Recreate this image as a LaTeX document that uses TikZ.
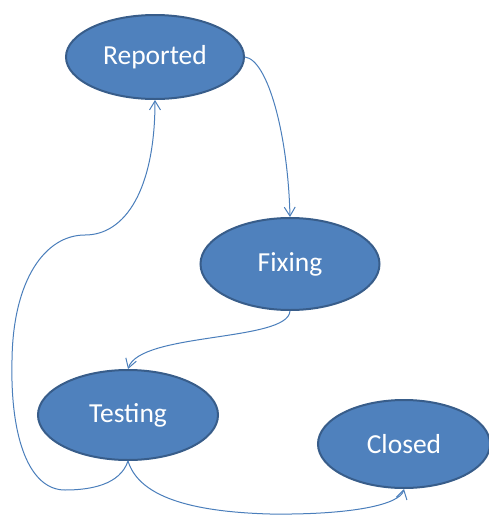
\documentclass[tikz,border=0pt]{standalone}
\usepackage{fontspec}
\setmainfont{Carlito}
\usetikzlibrary{shapes.geometric,arrows.meta}

\definecolor{statefill}{HTML}{4F81BD}
\definecolor{stateline}{HTML}{385D8A}
\definecolor{arrowblue}{HTML}{4A7EBB}

\begin{document}
\begin{tikzpicture}[x=1pt, y=-1pt,
    state/.style={ellipse, draw=stateline, fill=statefill, line width=2pt,
        inner sep=0pt, text=white, font=\fontsize{27.5}{32}\selectfont},
    flow/.style={draw=arrowblue, line width=1pt,
        -{Straight Barb[length=9pt,width=11pt]}}]
    \useasboundingbox (0,0) rectangle (489,515);
    % Define states
    \node[state, minimum width=178pt, minimum height=84pt] (rep) at (155,57) {Reported};
    \node[state, minimum width=179pt, minimum height=92pt] (fix) at (290,264) {Fixing};
    \node[state, minimum width=180pt, minimum height=90pt] (tst) at (128,415) {Testing};
    \node[state, minimum width=172pt, minimum height=88pt] (cls) at (404,444) {Closed};
    % Draw arrows
    \draw[flow] (rep.east) .. controls (268,60) and (288,135) .. (fix.north);
    \draw[flow] (fix.south) .. controls (288,342) and (140,332) .. (tst.north);
    \draw[flow] (tst.south) .. controls (120,485) and (90,490) .. (65,490)
        .. controls (30,490) and (10,440) .. (12,360)
        .. controls (13,280) and (45,235) .. (85,235)
        .. controls (125,235) and (155,190) .. (rep.south);
    \draw[flow] (tst.south) .. controls (140,500) and (200,512) .. (270,514)
        .. controls (350,515) and (400,505) .. (cls.south);
\end{tikzpicture}
\end{document}
